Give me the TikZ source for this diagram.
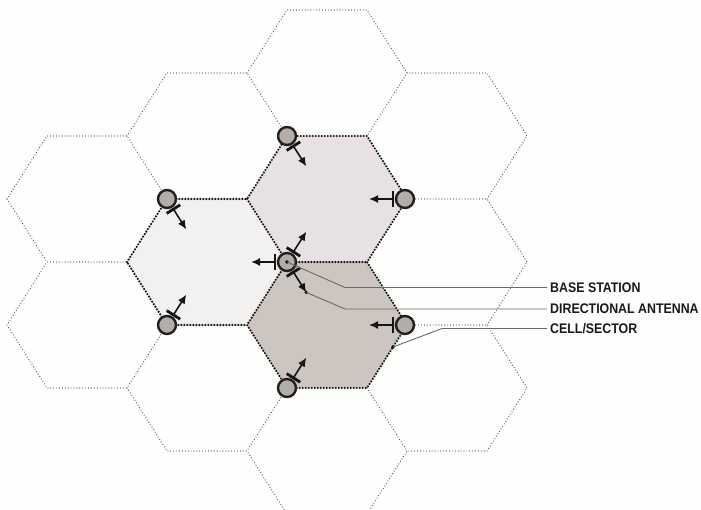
\documentclass[tikz,border=0pt]{standalone}
\usepackage{fontspec}
\setmainfont{Liberation Sans}
\newfontfamily\labfont[FakeStretch=0.89]{Liberation Sans}
\usetikzlibrary{arrows.meta,calc}
\definecolor{bg}{HTML}{FEFEFC}
\definecolor{cellA}{HTML}{F3F1F0}
\definecolor{cellB}{HTML}{E7E2E1}
\definecolor{cellC}{HTML}{CCC5C0}
\definecolor{bsfill}{HTML}{B3ADA8}
\definecolor{leadergray}{HTML}{6A6A6A}
\tikzset{
  outerhex/.style={draw=black!70, line width=1.2pt, line cap=round, dash pattern=on 0pt off 2.9pt},
  innerhex/.style={draw=black!92, line width=2.4pt, line cap=round, dash pattern=on 0pt off 3.0pt},
  bs/.style={circle, draw=black!88, line width=2.4pt, fill=bsfill, minimum size=18pt, inner sep=0pt},
  antbar/.style={line width=2.8pt, draw=black!92},
  antarrow/.style={line width=1.6pt, draw=black!92, -{Latex[length=9pt,width=8pt]}},
  leaderline/.style={draw=leadergray, line width=0.9pt},
  lab/.style={anchor=west, inner sep=0pt, text height=9.9pt, text depth=0pt, text=black!90,
    font=\labfont\bfseries\fontsize{13.9pt}{16pt}\selectfont},
  tipdot/.style={fill=black, circle, inner sep=0pt, minimum size=3.6pt},
}
\newcommand\antn[3]{%
  \coordinate (#3bar) at ($(#1.center)!12pt!(#2)$);
  \coordinate (#3) at ($(#1.center)!36pt!(#2)$);
  \draw[antbar] ($(#3bar)!8pt!90:(#2)$) -- ($(#3bar)!8pt!-90:(#2)$);
  \draw[antarrow] (#3bar) -- (#3);
}
\begin{document}
\begin{tikzpicture}[x=1pt,y=-1pt]
\useasboundingbox (0,0) rectangle (701,510);
\fill[bg] (0,0) rectangle (701,510);
\coordinate (cA) at (207,262);
\coordinate (cB) at (327,199);
\coordinate (cD) at (327,325);
\begin{scope}
\clip (0,0) rectangle (701,510);
% shaded cells
\fill[cellA] (127,262) -- (167,199) -- (247,199) -- (287,262) -- (247,325) -- (167,325) -- cycle;
\fill[cellB] (247,199) -- (287,136) -- (367,136) -- (407,199) -- (367,262) -- (287,262) -- cycle;
\fill[cellC] (247,325) -- (287,262) -- (367,262) -- (407,325) -- (367,388) -- (287,388) -- cycle;
% surrounding cells (each edge once)
\draw[outerhex] (7,199) -- (47,136) -- (127,136) -- (167,199);
\draw[outerhex] (7,199) -- (47,262);
\draw[outerhex] (167,325) -- (127,388) -- (47,388) -- (7,325) -- (47,262) -- (127,262);
\draw[outerhex] (127,136) -- (167,73) -- (247,73) -- (287,136);
\draw[outerhex] (287,388) -- (247,451) -- (167,451) -- (127,388);
\draw[outerhex] (247,73) -- (287,10) -- (367,10) -- (407,73) -- (367,136);
\draw[outerhex] (367,388) -- (407,451) -- (367,514) -- (287,514) -- (247,451);
\draw[outerhex] (407,73) -- (487,73) -- (527,136) -- (487,199);
\draw[outerhex] (407,199) -- (487,199) -- (527,262) -- (487,325);
\draw[outerhex] (407,325) -- (487,325) -- (527,388) -- (487,451) -- (407,451);
% cluster outline
\draw[innerhex] (127,262) -- (167,199) -- (247,199) -- (287,136) -- (367,136) -- (407,199) -- (367,262) -- (407,325) -- (367,388) -- (287,388) -- (247,325) -- (167,325) -- cycle;
\draw[innerhex] (247,199) -- (287,262) -- (367,262);
\draw[innerhex] (287,262) -- (247,325);
\end{scope}
% base stations
\node[bs] (s0) at (287,262) {};
\node[bs] (s1) at (167,199) {};
\node[bs] (s2) at (287,136) {};
\node[bs] (s3) at (405,199) {};
\node[bs] (s4) at (405,325) {};
\node[bs] (s5) at (287,388) {};
\node[bs] (s6) at (167,325) {};
% antennas
\antn{s1}{cA}{t1}
\antn{s2}{cB}{t2}
\antn{s3}{cB}{t3}
\antn{s4}{cD}{t4}
\antn{s5}{cD}{t5}
\antn{s6}{cA}{t6}
\antn{s0}{cA}{t0a}
\antn{s0}{cB}{t0b}
\antn{s0}{cD}{t0d}
% labels
\node[tipdot] (d1) at (s0.center) {};
\node[tipdot] (d2) at (t0d) {};
\node[tipdot] (d3) at (393,347) {};
\node[lab] (l1) at (550,287.5) {BASE STATION};
\node[lab] (l2) at (550,309) {DIRECTIONAL ANTENNA};
\node[lab] (l3) at (550,328.5) {CELL/SECTOR};
\coordinate (b1) at (345,287.5);
\coordinate (b2) at (345,309);
\coordinate (b3) at (442,328.5);
\draw[leaderline] (d1.center) -- (b1) -- ([xshift=-3pt]l1.west);
\draw[leaderline] (d2.center) -- (b2) -- ([xshift=-3pt]l2.west);
\draw[leaderline] (d3.center) -- (b3) -- ([xshift=-3pt]l3.west);
\end{tikzpicture}
\end{document}
